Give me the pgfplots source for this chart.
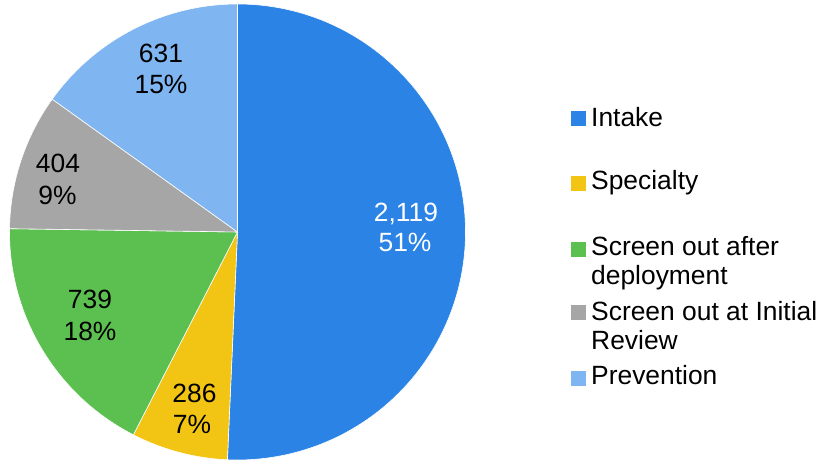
\documentclass[border=0pt]{standalone}
\usepackage{fontspec}
\setmainfont{Liberation Sans}
\usepackage{pgfplots}
\pgfplotsset{compat=1.18}

\definecolor{cIntake}{HTML}{2A83E5}
\definecolor{cSpec}{HTML}{F2C414}
\definecolor{cAfter}{HTML}{5CC050}
\definecolor{cInit}{HTML}{A6A6A6}
\definecolor{cPrev}{HTML}{7FB5F1}

\begin{document}
\begin{tikzpicture}
% slice values
\def\vA{2119}\def\vB{286}\def\vC{739}\def\vD{404}\def\vE{631}
\pgfmathsetmacro\tot{\vA+\vB+\vC+\vD+\vE}
\pgfmathsetmacro\aA{90-360*(\vA/\tot)}
\pgfmathsetmacro\aB{\aA-360*(\vB/\tot)}
\pgfmathsetmacro\aC{\aB-360*(\vC/\tot)}
\pgfmathsetmacro\aD{\aC-360*(\vD/\tot)}
\begin{axis}[
    width=820pt, height=462pt, scale only axis,
    xmin=0, xmax=820, ymin=0, ymax=462,
    hide axis, clip=false,
    font=\fontsize{26.4}{31}\selectfont,
]
\path (axis cs:0,0) rectangle (axis cs:820,462);
\def\cx{237.5}\def\cy{230}\def\R{228pt}
\fill[cIntake, draw=white, line width=0.6pt] (axis cs:\cx,\cy) -- ++(90:\R) arc[start angle=90, end angle=\aA, radius=\R] -- cycle;
\fill[cSpec, draw=white, line width=0.6pt] (axis cs:\cx,\cy) -- ++(\aA:\R) arc[start angle=\aA, end angle=\aB, radius=\R] -- cycle;
\fill[cAfter, draw=white, line width=0.6pt] (axis cs:\cx,\cy) -- ++(\aB:\R) arc[start angle=\aB, end angle=\aC, radius=\R] -- cycle;
\fill[cInit, draw=white, line width=0.6pt] (axis cs:\cx,\cy) -- ++(\aC:\R) arc[start angle=\aC, end angle=\aD, radius=\R] -- cycle;
\fill[cPrev, draw=white, line width=0.6pt] (axis cs:\cx,\cy) -- ++(\aD:\R) arc[start angle=\aD, end angle=-270, radius=\R] -- cycle;

% data labels
\node[anchor=base, white] at (axis cs:406,240) {2,119};
\node[anchor=base, white] at (axis cs:405,210) {51\%};
\node[anchor=base] at (axis cs:194.5,59) {286};
\node[anchor=base] at (axis cs:192,28) {7\%};
\node[anchor=base] at (axis cs:90,153) {739};
\node[anchor=base] at (axis cs:90,121) {18\%};
\node[anchor=base] at (axis cs:58,289) {404};
\node[anchor=base] at (axis cs:57.5,257) {9\%};
\node[anchor=base] at (axis cs:161,399) {631};
\node[anchor=base] at (axis cs:161,368) {15\%};

% legend
\addplot[only marks, mark=square*, mark size=7pt, color=cIntake] coordinates {(578,343.3)};
\addplot[only marks, mark=square*, mark size=7pt, color=cSpec] coordinates {(578,278.7)};
\addplot[only marks, mark=square*, mark size=7pt, color=cAfter] coordinates {(578,213)};
\addplot[only marks, mark=square*, mark size=7pt, color=cInit] coordinates {(578,149.3)};
\addplot[only marks, mark=square*, mark size=7pt, color=cPrev] coordinates {(578,84)};
\node[anchor=base west, inner sep=0pt] at (axis cs:591,335) {Intake};
\node[anchor=base west, inner sep=0pt] at (axis cs:591,272) {Specialty};
\node[anchor=base west, inner sep=0pt] at (axis cs:591,206) {Screen out after};
\node[anchor=base west, inner sep=0pt] at (axis cs:591,177) {deployment};
\node[anchor=base west, inner sep=0pt] at (axis cs:591,141) {Screen out at Initial};
\node[anchor=base west, inner sep=0pt] at (axis cs:591,112) {Review};
\node[anchor=base west, inner sep=0pt] at (axis cs:591,77) {Prevention};
\end{axis}
\end{tikzpicture}
\end{document}
